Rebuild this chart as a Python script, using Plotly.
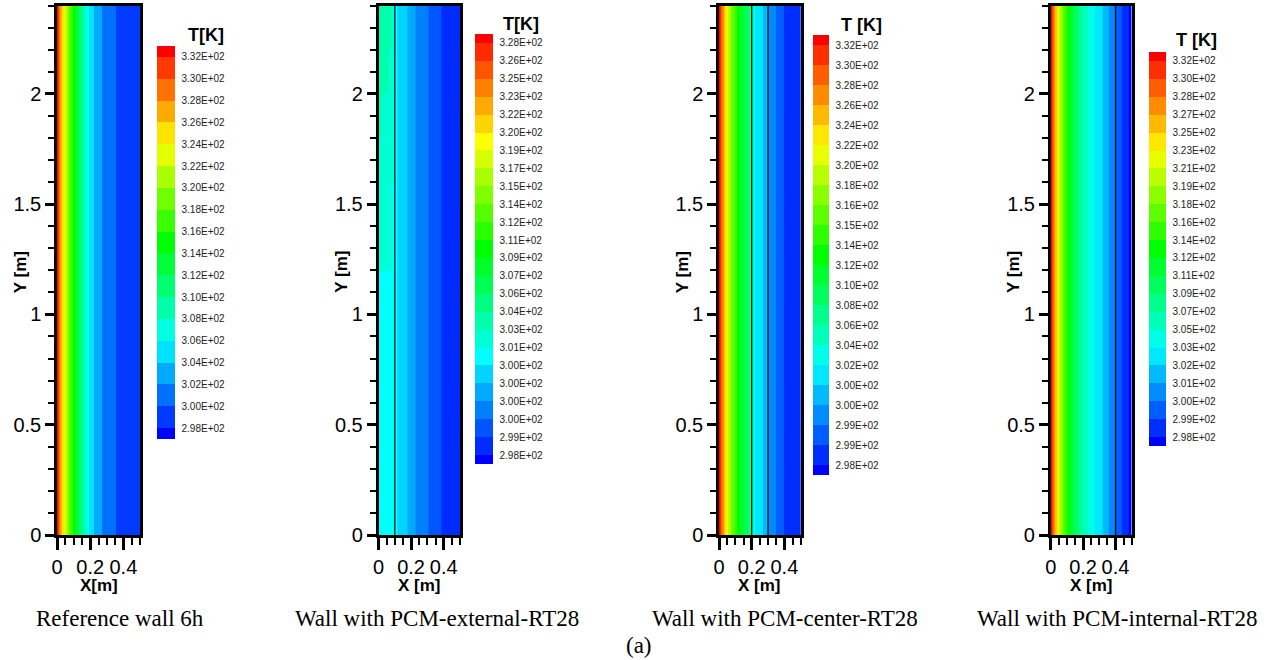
import colorsys
import plotly.graph_objects as go

W, H = 1277, 660

# ---------------- data ----------------
# Panel 1: reference wall (band index of contour level across wall thickness)
p1_x_edges = [0, 0.006, 0.012, 0.02, 0.03, 0.04, 0.052, 0.064, 0.078, 0.094, 0.112,
              0.13, 0.15, 0.17, 0.19, 0.22, 0.27, 0.356, 0.5]
p1_y_edges = [0, 2.4]
p1_bands = [[18, 17, 16, 15, 14, 13, 12, 11, 10, 9, 8, 7, 6, 5, 4, 3, 2, 1]]
p1_labels = ["3.32E+02", "3.30E+02", "3.28E+02", "3.26E+02", "3.24E+02", "3.22E+02",
             "3.20E+02", "3.18E+02", "3.16E+02", "3.14E+02", "3.12E+02", "3.10E+02",
             "3.08E+02", "3.06E+02", "3.04E+02", "3.02E+02", "3.00E+02", "2.98E+02"]
p1_pcm = []

# Panel 2: PCM external
p2_x_edges = [0, 0.02, 0.04, 0.06, 0.08, 0.1, 0.115, 0.18, 0.23, 0.305, 0.385, 0.5]
p2_y_edges = [0, 1.2, 1.6, 1.8, 2.0, 2.2, 2.4]
p2_bands = [
    [6, 6, 6, 6, 6, 6, 5, 4, 3, 2, 1],
    [7, 7, 7, 7, 6, 6, 5, 4, 3, 2, 1],
    [7, 7, 7, 7, 7, 6, 5, 4, 3, 2, 1],
    [8, 7, 7, 7, 7, 6, 5, 4, 3, 2, 1],
    [8, 8, 8, 7, 7, 6, 5, 4, 3, 2, 1],
    [8, 8, 8, 8, 7, 6, 5, 4, 3, 2, 1],
]
p2_labels = ["3.28E+02", "3.26E+02", "3.25E+02", "3.23E+02", "3.22E+02", "3.20E+02",
             "3.19E+02", "3.17E+02", "3.15E+02", "3.14E+02", "3.12E+02", "3.11E+02",
             "3.09E+02", "3.07E+02", "3.06E+02", "3.04E+02", "3.03E+02", "3.01E+02",
             "3.00E+02", "3.00E+02", "3.00E+02", "3.00E+02", "2.99E+02", "2.98E+02"]
p2_pcm = [0.1]

# Panel 3: PCM center
p3_x_edges = [0, 0.006, 0.012, 0.02, 0.028, 0.036, 0.046, 0.056, 0.068, 0.08, 0.095,
              0.11, 0.13, 0.155, 0.185, 0.206, 0.22, 0.27, 0.302, 0.35, 0.4, 0.5]
p3_y_edges = [0, 2.4]
p3_bands = [[22, 21, 20, 19, 18, 17, 16, 15, 14, 13, 12, 11, 10, 9, 8, 6, 5, 4, 3, 2, 1]]
p3_labels = ["3.32E+02", "3.30E+02", "3.28E+02", "3.26E+02", "3.24E+02", "3.22E+02",
             "3.20E+02", "3.18E+02", "3.16E+02", "3.15E+02", "3.14E+02", "3.12E+02",
             "3.10E+02", "3.08E+02", "3.06E+02", "3.04E+02", "3.02E+02", "3.00E+02",
             "3.00E+02", "2.99E+02", "2.99E+02", "2.98E+02"]
p3_pcm = [0.2, 0.3]

# Panel 4: PCM internal
p4_x_edges = [0, 0.006, 0.012, 0.018, 0.026, 0.034, 0.042, 0.052, 0.062, 0.074, 0.088,
              0.104, 0.12, 0.14, 0.165, 0.19, 0.23, 0.27, 0.32, 0.355, 0.403, 0.44, 0.48, 0.5]
p4_y_edges = [0, 2.4]
p4_bands = [[22, 21, 20, 19, 18, 17, 16, 15, 14, 13, 12, 11, 10, 9, 8, 7, 6, 5, 4, 3, 2, 1, 0]]
p4_labels = ["3.32E+02", "3.30E+02", "3.28E+02", "3.27E+02", "3.25E+02", "3.23E+02",
             "3.21E+02", "3.19E+02", "3.18E+02", "3.16E+02", "3.14E+02", "3.12E+02",
             "3.11E+02", "3.09E+02", "3.07E+02", "3.05E+02", "3.03E+02", "3.02E+02",
             "3.01E+02", "3.00E+02", "2.99E+02", "2.98E+02"]
p4_pcm = [0.4]

captions = ["Reference wall 6h", "Wall with PCM-external-RT28",
            "Wall with PCM-center-RT28", "Wall with PCM-internal-RT28"]
cbar_titles = ["T[K]", "T[K]", "T [K]", "T [K]"]
x_titles = ["X[m]", "X [m]", "X [m]", "X [m]"]
x_ticks = [0, 0.2, 0.4]
y_ticks = [0, 0.5, 1, 1.5, 2]

# ---------------- layout geometry (pixels) ----------------
plot_px = [(57, 140), (378.5, 460), (719, 800.7), (1050.7, 1131.7)]
plot_top, plot_bot = 5.5, 535
cbar_geo = [  # left, top, length, thickness
    (157, 46, 393, 18),
    (475, 34, 430, 18),
    (813, 35, 440, 16),
    (1149, 52, 394, 17),
]
cbar_title_pos = [(206, 35), (521, 24), (861, 25), (1196, 40)]
caption_x = [120, 437, 785, 1117]

SANS = "Liberation Sans, Arial, sans-serif"
SERIF = "Liberation Serif, Times New Roman, serif"


def rainbow_scale(n):
    scale = []
    for k in range(n + 1):
        h = (240.0 * (1 - k / n)) / 360.0
        r, g, b = colorsys.hsv_to_rgb(h, 1, 1)
        col = f"rgb({int(round(r*255))},{int(round(g*255))},{int(round(b*255))})"
        lo = max(0.0, (k - 0.5) / n)
        hi = min(1.0, (k + 0.5) / n)
        scale.append([lo, col])
        scale.append([hi, col])
    return scale


panels = [
    (p1_x_edges, p1_y_edges, p1_bands, p1_labels, p1_pcm),
    (p2_x_edges, p2_y_edges, p2_bands, p2_labels, p2_pcm),
    (p3_x_edges, p3_y_edges, p3_bands, p3_labels, p3_pcm),
    (p4_x_edges, p4_y_edges, p4_bands, p4_labels, p4_pcm),
]

fig = go.Figure()
annotations = []
layout_axes = {}

for i, (xe, ye, bands, labels, pcm) in enumerate(panels):
    ax = "" if i == 0 else str(i + 1)
    n = len(labels)
    left, top, length, thick = cbar_geo[i]
    fig.add_trace(go.Heatmap(
        x=xe, y=ye, z=bands, zmin=0, zmax=n,
        colorscale=rainbow_scale(n), zsmooth=False, hoverinfo="skip",
        xaxis="x" + ax, yaxis="y" + ax,
        colorbar=dict(
            x=left / W, xanchor="left", xpad=0,
            y=1 - top / H, yanchor="top", ypad=0,
            len=length, lenmode="pixels",
            thickness=thick, thicknessmode="pixels",
            outlinewidth=0,
            tickmode="array",
            tickvals=[j + 0.5 for j in range(n)],
            ticktext=list(reversed(labels)),
            ticks="outside", ticklen=5, tickcolor="rgba(0,0,0,0)",
            tickfont=dict(family=SANS, size=10, color="#222"),
        ),
    ))
    for xb in pcm:
        fig.add_trace(go.Scatter(
            x=[xb, xb], y=[ye[0], ye[-1]], mode="lines",
            line=dict(color="black", width=1.2), hoverinfo="skip",
            xaxis="x" + ax, yaxis="y" + ax, showlegend=False,
        ))

    x0, x1 = plot_px[i]
    layout_axes["xaxis" + ax] = dict(
        domain=[x0 / W, x1 / W], anchor="y" + ax, range=[0, 0.5], automargin=False,
        tickmode="array", tickvals=x_ticks, ticktext=["0", "0.2", "0.4"],
        tickangle=0, ticks="outside", ticklen=12, tickwidth=3, tickcolor="black",
        minor=dict(dtick=0.05, ticks="outside", ticklen=7, tickwidth=1.5, tickcolor="black"),
        showline=True, linewidth=2.5, linecolor="black", mirror=True,
        showgrid=False, zeroline=False,
        tickfont=dict(family=SANS, size=20, color="black"),
    )
    layout_axes["yaxis" + ax] = dict(
        domain=[1 - plot_bot / H, 1 - plot_top / H], anchor="x" + ax, range=[0, 2.4],
        automargin=False,
        tickmode="array", tickvals=y_ticks, ticktext=["0", "0.5", "1", "1.5", "2"],
        ticks="outside", ticklen=9, tickwidth=3, tickcolor="black",
        minor=dict(dtick=0.1, ticks="outside", ticklen=6, tickwidth=1.5, tickcolor="black"),
        showline=True, linewidth=2.5, linecolor="black", mirror=True,
        showgrid=False, zeroline=False,
        tickfont=dict(family=SANS, size=20, color="black"),
    )
    # axis titles
    annotations.append(dict(
        x=(x0 - 37) / W, y=1 - ((plot_top + plot_bot) / 2 + 2) / H, xref="paper", yref="paper",
        showarrow=False, text="<b>Y [m]</b>", textangle=-90,
        xanchor="center", yanchor="middle",
        font=dict(family=SANS, size=17, color="black"),
    ))
    annotations.append(dict(
        x=(x0 + x1) / 2 / W, y=1 - 585 / H, xref="paper", yref="paper",
        showarrow=False, text="<b>" + x_titles[i] + "</b>",
        xanchor="center", yanchor="middle",
        font=dict(family=SANS, size=17, color="black"),
    ))
    tx, ty = cbar_title_pos[i]
    annotations.append(dict(
        x=tx / W, y=1 - ty / H, xref="paper", yref="paper", showarrow=False,
        text="<b>" + cbar_titles[i] + "</b>", xanchor="center", yanchor="middle",
        font=dict(family=SANS, size=18, color="black"),
    ))
    annotations.append(dict(
        x=caption_x[i] / W, y=1 - 618 / H, xref="paper", yref="paper", showarrow=False,
        text=captions[i], xanchor="center", yanchor="middle",
        font=dict(family=SERIF, size=23, color="black"),
    ))

annotations.append(dict(
    x=639 / W, y=1 - 645 / H, xref="paper", yref="paper", showarrow=False,
    text="(a)", xanchor="center", yanchor="middle",
    font=dict(family=SERIF, size=23, color="black"),
))

fig.update_layout(
    width=W, height=H, margin=dict(l=0, r=0, t=0, b=0),
    paper_bgcolor="white", plot_bgcolor="white", showlegend=False,
    annotations=annotations, **layout_axes,
)

fig.write_html("out.html")
